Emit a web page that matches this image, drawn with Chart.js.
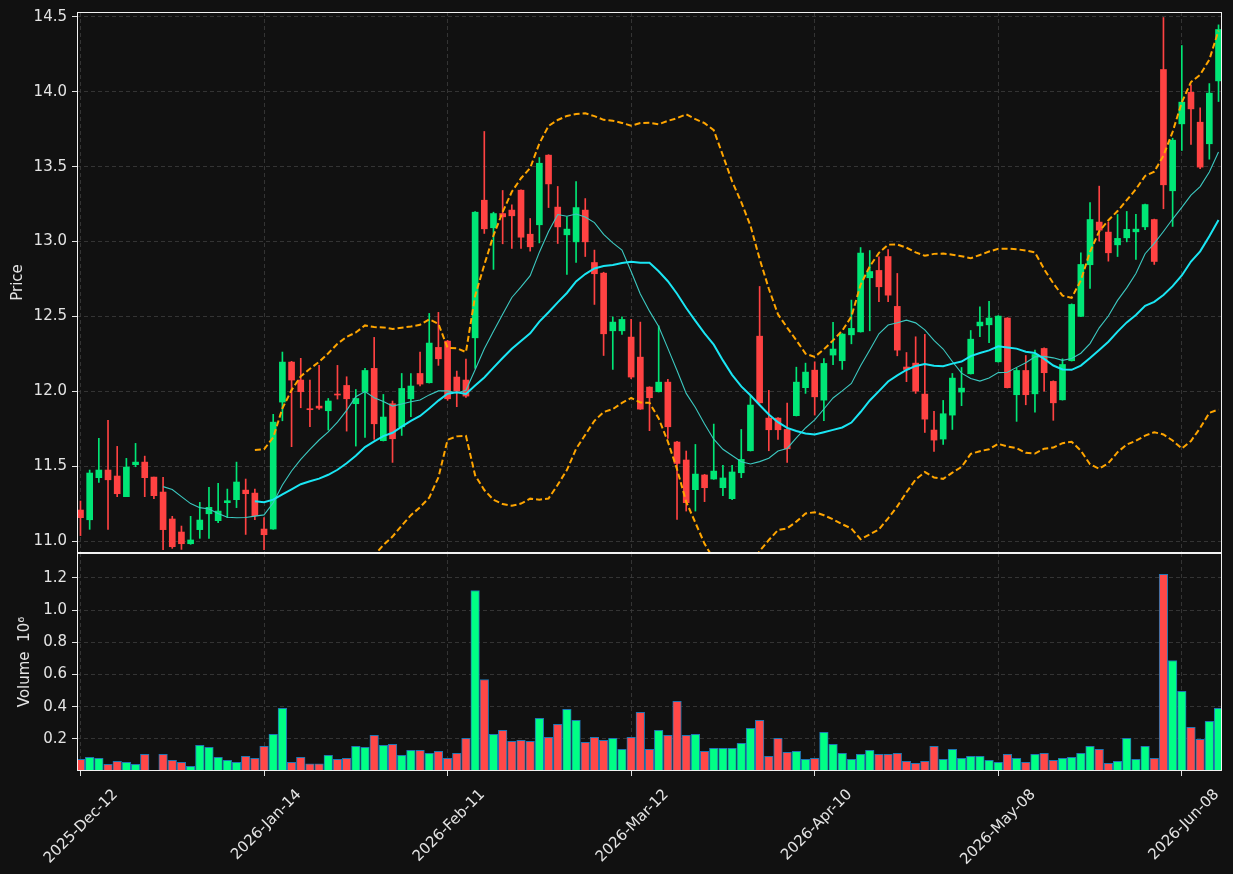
<!DOCTYPE html>
<html><head><meta charset="utf-8">
<script src="https://cdn.jsdelivr.net/npm/chart.js@4/dist/chart.umd.min.js"></script>
<style>
html,body{margin:0;padding:0;background:#111111;}
#wrap{position:relative;width:1233px;height:874px;background:#111111;overflow:hidden;}
.box{position:absolute;left:0;}
</style></head><body>
<div id="wrap">
<div class="box" style="top:0;width:1233px;height:554px"><canvas id="pc" width="1233" height="554"></canvas></div>
<div class="box" style="top:553px;width:1233px;height:321px"><canvas id="vc" width="1233" height="321"></canvas></div>
</div>
<script>
// ---- data ----
const tickIdx = [0, 20, 40, 60, 80, 100, 120];
const tickLabels = ['2025-Dec-12','2026-Jan-14','2026-Feb-11','2026-Mar-12','2026-Apr-10','2026-May-08','2026-Jun-08'];
const priceTicks = [11.0, 11.5, 12.0, 12.5, 13.0, 13.5, 14.0, 14.5];
const volTicks = [0.2, 0.4, 0.6, 0.8, 1.0, 1.2];

const openP = [
11.207, 11.142, 11.423, 11.474, 11.434, 11.296, 11.510, 11.527, 11.427, 11.327,
11.147, 11.060, 10.982, 11.076, 11.182, 11.136, 11.256, 11.276, 11.340, 11.320,
11.080, 11.080, 11.928, 12.195, 12.075, 11.883, 11.901, 11.870, 11.981, 12.039,
11.917, 11.995, 12.153, 11.670, 11.917, 11.763, 11.950, 12.119, 12.057, 12.293,
12.335, 12.095, 12.075, 12.357, 13.276, 13.092, 13.187, 13.210, 13.343, 13.049,
13.112, 13.577, 13.230, 13.045, 12.998, 13.210, 12.860, 12.789, 12.404, 12.404,
12.362, 12.228, 12.028, 11.997, 12.061, 11.661, 11.541, 11.343, 11.441, 11.414,
11.356, 11.283, 11.456, 11.603, 12.368, 11.821, 11.821, 11.745, 11.837, 12.024,
12.141, 11.941, 12.242, 12.204, 12.377, 12.397, 12.758, 12.807, 12.900, 12.567,
12.162, 12.188, 11.981, 11.741, 11.681, 11.841, 11.995, 12.117, 12.437, 12.444,
12.197, 12.489, 11.977, 12.139, 11.983, 12.286, 12.066, 11.943, 12.204, 12.500,
12.845, 13.130, 13.063, 12.978, 13.025, 13.065, 13.098, 13.147, 14.149, 13.339,
13.786, 13.997, 13.797, 13.653, 14.073
];
const highP = [
11.267, 11.474, 11.685, 11.806, 11.632, 11.552, 11.652, 11.567, 11.427, 11.425,
11.165, 11.100, 11.165, 11.258, 11.358, 11.385, 11.347, 11.527, 11.414, 11.347,
11.156, 11.846, 12.262, 12.200, 12.220, 12.075, 12.173, 11.952, 12.173, 12.097,
12.012, 12.153, 12.360, 11.979, 11.935, 12.119, 12.119, 12.262, 12.520, 12.527,
12.340, 12.135, 12.215, 13.200, 13.735, 13.196, 13.341, 13.245, 13.345, 13.154,
13.561, 13.580, 13.368, 13.165, 13.401, 13.287, 12.943, 12.795, 12.497, 12.497,
12.480, 12.462, 12.030, 12.437, 12.079, 11.665, 11.601, 11.645, 11.445, 11.781,
11.505, 11.505, 11.745, 11.970, 12.700, 12.006, 11.825, 11.921, 12.161, 12.188,
12.197, 12.219, 12.460, 12.385, 12.609, 12.960, 12.940, 12.898, 12.947, 12.787,
12.259, 12.364, 12.380, 11.866, 11.939, 12.119, 12.159, 12.406, 12.564, 12.600,
12.505, 12.492, 12.155, 12.239, 12.275, 12.290, 12.070, 12.217, 12.584, 12.925,
13.261, 13.370, 13.130, 13.181, 13.201, 13.181, 13.250, 13.150, 14.496, 13.690,
14.309, 14.046, 13.893, 14.055, 14.447
];
const lowP = [
11.036, 11.078, 11.392, 11.078, 11.296, 11.296, 11.496, 11.296, 11.283, 10.942,
10.951, 10.944, 10.978, 11.018, 11.018, 11.122, 11.156, 11.223, 11.044, 11.142,
10.942, 11.078, 11.803, 11.630, 11.890, 11.763, 11.879, 11.741, 11.948, 11.734,
11.634, 11.692, 11.679, 11.668, 11.525, 11.705, 11.830, 12.035, 12.055, 12.173,
11.940, 11.897, 11.959, 12.153, 13.054, 12.814, 12.985, 12.954, 12.954, 12.936,
12.991, 13.227, 12.987, 12.780, 12.860, 12.900, 12.580, 12.239, 12.146, 12.380,
12.084, 11.879, 11.737, 11.995, 11.685, 11.145, 11.200, 11.200, 11.263, 11.412,
11.303, 11.276, 11.423, 11.601, 11.921, 11.603, 11.679, 11.525, 11.835, 11.986,
11.841, 11.803, 12.177, 12.146, 12.317, 12.395, 12.404, 12.598, 12.598, 12.237,
12.064, 11.986, 11.725, 11.599, 11.645, 11.745, 11.904, 12.115, 12.364, 12.324,
12.195, 12.022, 11.799, 11.910, 11.861, 12.001, 11.806, 11.941, 12.202, 12.498,
12.687, 13.003, 12.869, 12.900, 12.998, 12.880, 13.079, 12.847, 13.219, 13.101,
13.608, 13.648, 13.486, 13.550, 13.935
];
const closeP = [
11.156, 11.454, 11.474, 11.409, 11.316, 11.494, 11.527, 11.423, 11.303, 11.076,
10.962, 10.982, 11.007, 11.140, 11.225, 11.200, 11.269, 11.394, 11.316, 11.169,
11.042, 11.794, 12.195, 12.075, 11.997, 11.877, 11.888, 11.935, 11.975, 11.950,
11.952, 12.139, 11.783, 11.828, 11.683, 12.019, 12.035, 12.048, 12.322, 12.217,
11.950, 12.001, 11.968, 13.196, 13.085, 13.187, 13.165, 13.172, 13.029, 12.965,
13.523, 13.385, 13.098, 13.083, 13.227, 12.998, 12.785, 12.384, 12.462, 12.480,
12.095, 11.881, 11.957, 12.061, 11.763, 11.518, 11.256, 11.447, 11.356, 11.467,
11.421, 11.461, 11.545, 11.908, 11.923, 11.743, 11.743, 11.616, 12.061, 12.128,
11.963, 12.186, 12.282, 12.382, 12.420, 12.923, 12.800, 12.698, 12.642, 12.275,
12.146, 12.001, 11.814, 11.674, 11.850, 12.088, 12.021, 12.348, 12.462, 12.489,
12.502, 12.024, 12.139, 11.977, 12.246, 12.124, 11.923, 12.179, 12.580, 12.847,
13.147, 13.076, 12.925, 13.021, 13.081, 13.083, 13.247, 12.867, 13.379, 13.677,
13.931, 13.886, 13.497, 13.991, 14.416
];
const volumeM = [
0.072, 0.085, 0.079, 0.041, 0.060, 0.054, 0.041, 0.104, 0.004, 0.104,
0.066, 0.054, 0.029, 0.159, 0.147, 0.085, 0.066, 0.054, 0.091, 0.079,
0.153, 0.228, 0.389, 0.054, 0.085, 0.045, 0.045, 0.097, 0.072, 0.079,
0.153, 0.147, 0.221, 0.159, 0.166, 0.097, 0.128, 0.128, 0.110, 0.122,
0.079, 0.110, 0.203, 1.122, 0.569, 0.228, 0.253, 0.184, 0.190, 0.184,
0.327, 0.209, 0.290, 0.383, 0.315, 0.178, 0.209, 0.190, 0.203, 0.135,
0.209, 0.364, 0.135, 0.253, 0.221, 0.433, 0.221, 0.228, 0.122, 0.141,
0.141, 0.141, 0.172, 0.265, 0.315, 0.091, 0.203, 0.116, 0.122, 0.072,
0.079, 0.240, 0.166, 0.110, 0.072, 0.104, 0.128, 0.104, 0.104, 0.110,
0.060, 0.047, 0.060, 0.153, 0.072, 0.135, 0.079, 0.091, 0.091, 0.066,
0.054, 0.104, 0.079, 0.054, 0.104, 0.110, 0.066, 0.079, 0.085, 0.110,
0.153, 0.135, 0.047, 0.060, 0.203, 0.072, 0.153, 0.079, 1.222, 0.687,
0.495, 0.271, 0.197, 0.308, 0.389
];

// ---- styling ----
const FONT = 'DejaVu Sans';
const TXT = '#e4e4e4';
const GRID = '#3e3e3e';
const UP = '#00e676', DN = '#ff4242', VUP = '#00ff85', VDN = '#ff4848';
const X_MIN = -0.38, X_MAX = 124.38;

// ---- derived series (moving averages / bands of the closes) ----
const idx = closeP.map((_, i) => i);
const isUp = idx.map(i => closeP[i] >= openP[i]);
function sma(src, p) {
  const out = [];
  for (let i = p - 1; i < src.length; i++) {
    let s = 0; for (let k = i - p + 1; k <= i; k++) s += src[k];
    out.push({x: i, y: s / p});
  }
  return out;
}
function bands(src, p, m) {
  const up = [], lo = [];
  for (let i = p - 1; i < src.length; i++) {
    let s = 0; for (let k = i - p + 1; k <= i; k++) s += src[k];
    const mean = s / p;
    let v = 0; for (let k = i - p + 1; k <= i; k++) v += (src[k] - mean) ** 2;
    const sd = Math.sqrt(v / p);
    up.push({x: i, y: mean + m * sd});
    lo.push({x: i, y: mean - m * sd});
  }
  return {up, lo};
}
const ma10 = sma(closeP, 10);
const ma20 = sma(closeP, 20);
const bb = bands(closeP, 20, 2);

const frame = {
  id: 'frame',
  afterDraw(c) {
    const {ctx, chartArea: a} = c;
    ctx.save();
    ctx.strokeStyle = '#f2f2f2';
    ctx.lineWidth = 1;
    ctx.strokeRect(Math.round(a.left) + 0.5, Math.round(a.top) + 0.5,
      Math.round(a.right - a.left) - 1, Math.round(a.bottom - a.top) - 1);
    ctx.restore();
  }
};
function noPad(s) { s.paddingTop = 0; s.paddingBottom = 0; s.paddingLeft = 0; s.paddingRight = 0; }
const tickFont = {family: FONT, size: 15};

function yAxis(min, max, ticksArr, title, titlePad) {
  return {
    type: 'linear', min: min, max: max,
    grid: {color: GRID, lineWidth: 0.8, tickLength: 5, tickColor: '#e0e0e0', tickWidth: 1, tickBorderDash: []},
    border: {display: false, dash: [4, 3]},
    ticks: {color: TXT, font: tickFont, padding: 5, callback: v => Number(v).toFixed(1)},
    afterBuildTicks: s => { s.ticks = ticksArr.map(v => ({value: v})); },
    afterFit: s => { s.width = 77; noPad(s); },
    title: {display: true, text: title, color: TXT, font: {family: FONT, size: 15}, padding: {top: titlePad, bottom: 0}}
  };
}

// ---- price chart ----
new Chart(document.getElementById('pc'), {
  type: 'bar',
  data: {
    datasets: [
      {type: 'line', data: ma10, borderColor: '#3cc9c1', borderWidth: 1.1, pointRadius: 0, tension: 0, order: 1, clip: 0},
      {type: 'line', data: ma20, borderColor: '#1ae6f4', borderWidth: 2, pointRadius: 0, tension: 0, order: 0, clip: 0},
      {type: 'line', data: bb.up, borderColor: '#ffa500', borderWidth: 2, borderDash: [6, 3], pointRadius: 0, tension: 0, order: 0, clip: 0},
      {type: 'line', data: bb.lo, borderColor: '#ffa500', borderWidth: 2, borderDash: [6, 3], pointRadius: 0, tension: 0, order: 0, clip: 0},
      {type: 'bar', data: idx.map(i => ({x: i, y: [openP[i], closeP[i]]})),
        backgroundColor: isUp.map(u => u ? UP : DN), barThickness: 6, grouped: false, minBarLength: 1, order: 5},
      {type: 'bar', data: idx.map(i => ({x: i, y: [lowP[i], highP[i]]})),
        backgroundColor: isUp.map(u => u ? UP : DN), barThickness: 1, grouped: false, order: 6}
    ]
  },
  options: {
    responsive: false, animation: false, events: [],
    layout: {padding: {top: 12, right: 11, bottom: 1, left: 0}},
    plugins: {legend: {display: false}, tooltip: {enabled: false}},
    scales: {
      x: {
        type: 'linear', min: X_MIN, max: X_MAX, offset: false,
        grid: {color: GRID, lineWidth: 0.8, drawTicks: false, offset: false},
        border: {display: false, dash: [4, 3]},
        ticks: {display: false},
        afterBuildTicks: s => { s.ticks = tickIdx.map(v => ({value: v})); },
        afterFit: s => { s.height = 0; noPad(s); }
      },
      y: yAxis(10.92, 14.533, priceTicks, 'Price', 9)
    }
  },
  plugins: [frame]
});

// ---- volume chart ----
new Chart(document.getElementById('vc'), {
  type: 'bar',
  data: {
    datasets: [
      {data: idx.map(i => ({x: i, y: volumeM[i]})),
        backgroundColor: isUp.map(u => u ? VUP : VDN),
        borderColor: '#1f77b4', borderWidth: 1, barThickness: 8.6, grouped: false}
    ]
  },
  options: {
    responsive: false, animation: false, events: [],
    layout: {padding: {top: 0, right: 11, bottom: 0, left: 0}},
    plugins: {legend: {display: false}, tooltip: {enabled: false}},
    scales: {
      x: {
        type: 'linear', min: X_MIN, max: X_MAX, offset: false,
        grid: {color: GRID, lineWidth: 0.8, tickLength: 5, tickColor: '#e0e0e0', tickWidth: 1, tickBorderDash: [], offset: false},
        border: {display: false, dash: [4, 3]},
        ticks: {
          color: TXT, font: tickFont, autoSkip: false, minRotation: 45, maxRotation: 45,
          padding: 10, labelOffset: 35,
          callback: v => { const k = tickIdx.indexOf(v); return k >= 0 ? tickLabels[k] : ''; }
        },
        afterBuildTicks: s => { s.ticks = tickIdx.map(v => ({value: v})); },
        afterFit: s => { s.height = 103; noPad(s); }
      },
      y: yAxis(0, 1.355, volTicks, 'Volume  10\u2076', 16)
    }
  },
  plugins: [frame]
});
</script>
</body></html>
